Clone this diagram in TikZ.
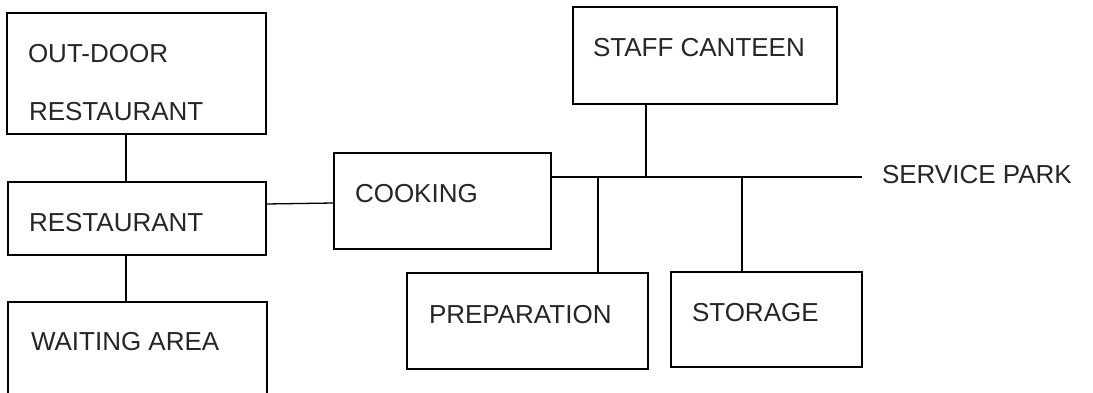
\documentclass[tikz,border=0pt]{standalone}
\usepackage{fontspec}
\setmainfont{Liberation Sans}
\begin{document}
\begin{tikzpicture}[x=1pt,y=-1pt,
  box/.style={draw, line width=1.3pt, rectangle, inner sep=0pt, outer sep=0pt},
  lbl/.style={anchor=base west, inner sep=0pt, outer sep=0pt, text=black!85, font=\fontsize{26}{30}\selectfont},
  conn/.style={line width=1.3pt}]
\useasboundingbox (0,0) rectangle (1093,393);
\clip (0,0) rectangle (1093,393);
\fill[white] (0,0) rectangle (1093,393);
% boxes
\node[box, minimum width=259pt, minimum height=121pt] (outdoor) at (136.5,73.5) {};
\node[box, minimum width=258pt, minimum height=73pt] (rest) at (137,218.5) {};
\node[box, minimum width=259pt, minimum height=118pt] (wait) at (137.5,361) {};
\node[box, minimum width=217pt, minimum height=96pt] (cook) at (442.5,201) {};
\node[box, minimum width=264pt, minimum height=97pt] (staff) at (705,55.5) {};
\node[box, minimum width=241pt, minimum height=96pt] (prep) at (527.5,321) {};
\node[box, minimum width=191pt, minimum height=95pt] (stor) at (766.5,319.5) {};
% labels
\node[lbl] (outdoorA) at (28,63) {OUT-DOOR};
\node[lbl] (outdoorB) at (29,121) {RESTAURANT};
\node[lbl] (restT) at (29,231) {RESTAURANT};
\node[lbl] (waitT) at (31,350) {WAITING AREA};
\node[lbl] (cookT) at (355,203) {COOKING};
\node[lbl] (staffT) at (593,57) {STAFF CANTEEN};
\node[lbl] (prepT) at (429,323) {PREPARATION};
\node[lbl] (storT) at (692,321) {STORAGE};
\node[lbl] (parkT) at (882,184) {SERVICE PARK};
% helper coordinates
\coordinate (vx) at (126,0);
\coordinate (ry) at (0,204);
\coordinate (cy) at (0,203);
\coordinate (by) at (0,177);
\coordinate (busend) at (862,177);
\coordinate (sx) at (646,0);
\coordinate (px) at (598,0);
\coordinate (tx) at (742,0);
% connectors
\draw[conn] (outdoor.south -| vx) -- (rest.north -| vx);
\draw[conn] (rest.south -| vx) -- (wait.north -| vx);
\draw[conn] (rest.east |- ry) -- (cook.west |- cy);
\draw[conn] (cook.east |- by) -- (busend);
\draw[conn] (staff.south -| sx) -- (sx |- by);
\draw[conn] (px |- by) -- (prep.north -| px);
\draw[conn] (tx |- by) -- (stor.north -| tx);
\end{tikzpicture}
\end{document}
